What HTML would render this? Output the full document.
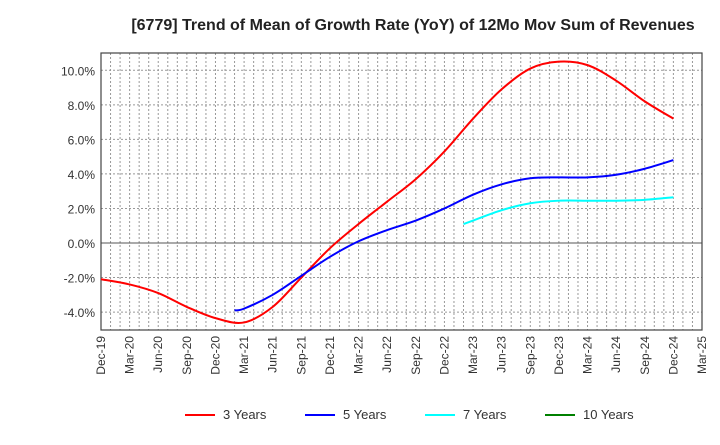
<!DOCTYPE html>
<html><head><meta charset="utf-8"><style>
body{margin:0;background:#fff;font-family:"Liberation Sans",Arial,sans-serif}
svg text{font-family:"Liberation Sans",Arial,sans-serif}
</style></head><body>
<svg id="c" width="720" height="440" xmlns="http://www.w3.org/2000/svg">
<text x="413" y="30" text-anchor="middle" font-size="16" font-weight="bold" fill="#222">[6779]  Trend of Mean of Growth Rate (YoY) of 12Mo Mov Sum of Revenues</text>
<g id="grid"></g><g id="axes"></g><g id="series"></g><g id="legend"></g>
</svg>
<script>
const xLabels=["Dec-19","Mar-20","Jun-20","Sep-20","Dec-20","Mar-21","Jun-21","Sep-21","Dec-21","Mar-22","Jun-22","Sep-22","Dec-22","Mar-23","Jun-23","Sep-23","Dec-23","Mar-24","Jun-24","Sep-24","Dec-24","Mar-25"];
const yTicks=[-4,-2,0,2,4,6,8,10];
const seriesNames=["3 Years","5 Years","7 Years","10 Years"];
const seriesColors=["#ff0000","#0000ff","#00ffff","#008000"];
const m3=[0,3,6,9,12,15,18,21,24,27,30,33,36,39,42,45,48,51,54,57,60];
const v3=[-2.1,-2.4,-2.9,-3.7,-4.35,-4.6,-3.7,-2.0,-0.3,1.1,2.4,3.7,5.3,7.2,8.9,10.1,10.5,10.3,9.4,8.2,7.2];
const m5=[14,15,18,21,24,27,30,33,36,39,42,45,48,51,54,57,60];
const v5=[-3.9,-3.8,-3.0,-1.9,-0.8,0.1,0.75,1.3,2.0,2.8,3.4,3.75,3.8,3.8,3.95,4.3,4.8];
const m7=[38,39,42,45,48,51,54,57,60];
const v7=[1.1,1.3,1.9,2.3,2.45,2.45,2.45,2.5,2.65];
const m10=[];const v10=[];
const L=101,R=702,T=53,B=330;
const X=m=>L+(R-L)*m/63;
const Y=v=>243-v*17.27;
const NS="http://www.w3.org/2000/svg";
function mk(tag,attrs,parent){const e=document.createElementNS(NS,tag);for(const k in attrs)e.setAttribute(k,attrs[k]);parent.appendChild(e);return e;}
const grid=document.getElementById('grid'),axes=document.getElementById('axes'),ser=document.getElementById('series'),leg=document.getElementById('legend');
for(let m=1;m<63;m++){const l=mk('line',{x1:X(m),x2:X(m),y1:T,y2:B,stroke:'#999','stroke-dasharray':'2,2','stroke-width':1},grid);

}
yTicks.forEach(v=>{const l=mk('line',{x1:L,x2:R,y1:Y(v),y2:Y(v),stroke:v===0?'#555':'#999','stroke-dasharray':v===0?'':'2,2','stroke-width':1},grid);


const t=mk('text',{x:L-6,y:Y(v)+5,'text-anchor':'end','font-size':12,fill:'#333'},axes);t.textContent=v.toFixed(1)+'%';

});
const fr=mk('rect',{x:L,y:T,width:R-L,height:B-T,fill:'none',stroke:'#444','stroke-width':1.2},axes);


xLabels.forEach((s,i)=>{const x=X(i*3)+4;const t=mk('text',{x:x,y:336,'text-anchor':'end','font-size':12,fill:'#333',transform:`rotate(-90 ${x} 336)`},axes);t.textContent=s;

});
function path(ms,vs){const p=ms.map((m,i)=>[X(m),Y(vs[i])]);if(p.length<2)return '';let d=`M${p[0][0]},${p[0][1]}`;
for(let i=0;i<p.length-1;i++){const p0=p[i-1]||p[i],p1=p[i],p2=p[i+1],p3=p[i+2]||p2;
d+=` C${p1[0]+(p2[0]-p0[0])/6},${p1[1]+(p2[1]-p0[1])/6} ${p2[0]-(p3[0]-p1[0])/6},${p2[1]-(p3[1]-p1[1])/6} ${p2[0]},${p2[1]}`;}return d;}
[[m3,v3],[m5,v5],[m7,v7],[m10,v10]].forEach((s,i)=>{const d=path(s[0],s[1]);if(!d)return;const pe=mk('path',{d:d,fill:'none',stroke:seriesColors[i],'stroke-width':2},ser);

});
const lx=[185,305,425,545];
seriesNames.forEach((n,i)=>{const g=mk('g',{},leg);


mk('line',{x1:lx[i],x2:lx[i]+30,y1:415,y2:415,stroke:seriesColors[i],'stroke-width':2},g);
const t=mk('text',{x:lx[i]+38,y:419,'font-size':13,fill:'#333'},g);t.textContent=n;});
</script>
</body></html>
